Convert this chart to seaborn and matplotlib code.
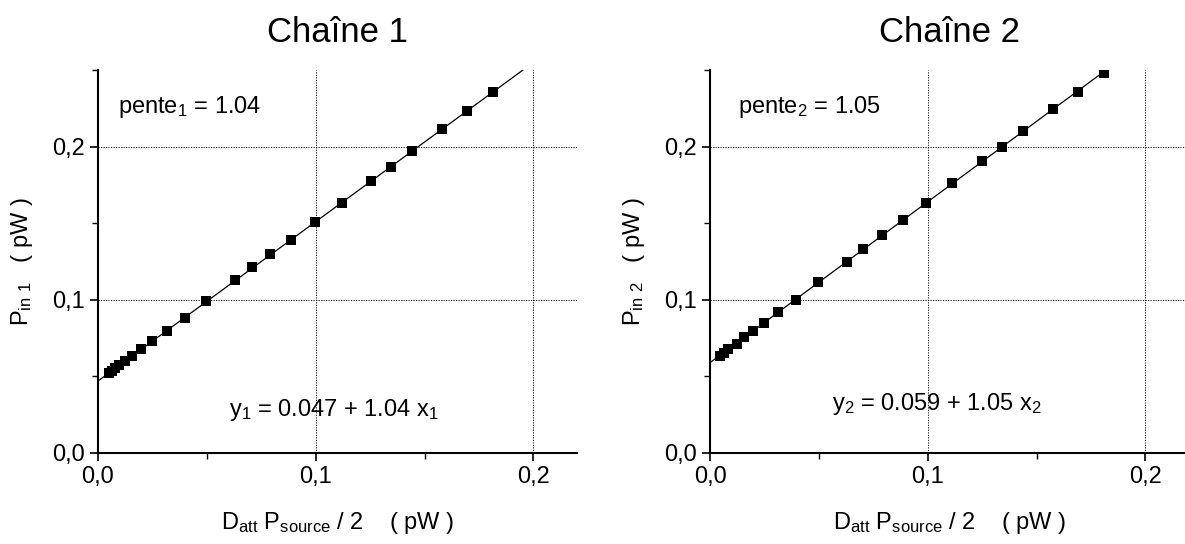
import matplotlib
matplotlib.use("Agg")
import matplotlib.pyplot as plt
import seaborn as sns
import numpy as np
import pandas as pd
from matplotlib.ticker import MultipleLocator, FuncFormatter

# ---------------- data ----------------
titles = ["Chaîne 1", "Chaîne 2"]

x1 = [0.0051, 0.0063, 0.0078, 0.0098, 0.0123, 0.0158, 0.0199, 0.0250, 0.0316,
      0.0399, 0.0498, 0.0628, 0.0706, 0.0792, 0.0887, 0.0998, 0.1120, 0.1255,
      0.1344, 0.1444, 0.1582, 0.1694, 0.1815]
y1 = [0.0521, 0.0538, 0.0554, 0.0575, 0.0603, 0.0636, 0.0680, 0.0732, 0.0799,
      0.0884, 0.0993, 0.1129, 0.1211, 0.1299, 0.1390, 0.1510, 0.1634, 0.1776,
      0.1869, 0.1972, 0.2113, 0.2231, 0.2355]

x2 = [0.0046, 0.0064, 0.0084, 0.0123, 0.0156, 0.0196, 0.0248, 0.0312, 0.0394,
      0.0497, 0.0627, 0.0702, 0.0788, 0.0887, 0.0994, 0.1113, 0.1251, 0.1343,
      0.1436, 0.1575, 0.1691, 0.1811]
y2 = [0.0634, 0.0655, 0.0678, 0.0714, 0.0756, 0.0799, 0.0848, 0.0920, 0.1000,
      0.1113, 0.1248, 0.1329, 0.1420, 0.1518, 0.1634, 0.1760, 0.1904, 0.2000,
      0.2103, 0.2244, 0.2359, 0.2482]

intercepts = [0.047, 0.059]
slopes = [1.04, 1.05]

pente_labels = [r"pente$_{1}$ = 1.04", r"pente$_{2}$ = 1.05"]
eq_labels = [r"y$_{1}$ = 0.047 + 1.04 x$_{1}$", r"y$_{2}$ = 0.059 + 1.05 x$_{2}$"]
ylabels = [r"P$_{\mathregular{in\ 1}}$   ( pW )", r"P$_{\mathregular{in\ 2}}$   ( pW )"]
xlabel = r"D$_{\mathregular{att}}$ P$_{\mathregular{source}}$ / 2    ( pW )"

# ---------------- style ----------------
sns.set_style("ticks")
plt.rcParams['font.family'] = ['Liberation Sans', 'DejaVu Sans']
plt.rcParams['mathtext.default'] = 'regular'
plt.rcParams['text.color'] = 'black'
plt.rcParams['axes.labelcolor'] = 'black'
plt.rcParams['xtick.color'] = 'black'
plt.rcParams['ytick.color'] = 'black'

fig = plt.figure(figsize=(11.85, 5.44), dpi=100)
axes_pos = [[0.0827, 0.1673, 0.4042, 0.7040],
            [0.5992, 0.1673, 0.4042, 0.7040]]

datasets = [(x1, y1), (x2, y2)]
pente_pos = [(0.009, 0.226), (0.013, 0.226)]
eq_pos = [(0.060, 0.028), (0.056, 0.032)]

fmt = FuncFormatter(lambda v, p: f"{v:.1f}".replace(".", ","))

for i in range(2):
    ax = fig.add_axes(axes_pos[i])
    xs, ys = datasets[i]
    df = pd.DataFrame({"x": xs, "y": ys})
    xfit = np.array([0.0, 0.25])
    ax.plot(xfit, intercepts[i] + slopes[i] * xfit, color="black", lw=0.9, zorder=3)
    sns.scatterplot(data=df, x="x", y="y", marker="s", s=48, color="black",
                    edgecolor="black", linewidth=0, ax=ax, zorder=4)
    ax.set_xlim(0, 0.22)
    ax.set_ylim(0, 0.25)
    ax.xaxis.set_major_locator(MultipleLocator(0.1))
    ax.xaxis.set_minor_locator(MultipleLocator(0.05))
    ax.yaxis.set_major_locator(MultipleLocator(0.1))
    ax.yaxis.set_minor_locator(MultipleLocator(0.05))
    ax.xaxis.set_major_formatter(fmt)
    ax.yaxis.set_major_formatter(fmt)
    ax.tick_params(which="major", direction="out", length=6, width=1.2,
                   labelsize=17, color="black", labelcolor="black")
    ax.tick_params(which="minor", direction="out", length=4, width=1.0, color="black")
    for g in [0.1, 0.2]:
        ax.axhline(g, color="black", lw=0.6, ls=(0, (1.5, 1.5)), zorder=1)
        ax.axvline(g, color="black", lw=0.6, ls=(0, (1.5, 1.5)), zorder=1)
    sns.despine(ax=ax)
    for s in ["left", "bottom"]:
        ax.spines[s].set_linewidth(1.5)
        ax.spines[s].set_color("black")
    ax.set_xlabel(xlabel, fontsize=17, labelpad=16, color="black")
    ax.set_ylabel(ylabels[i], fontsize=17, labelpad=12, color="black")
    ax.set_title(titles[i], fontsize=25, pad=20, color="black")
    ax.text(*pente_pos[i], pente_labels[i], fontsize=17, va="center", ha="left", color="black")
    ax.text(*eq_pos[i], eq_labels[i], fontsize=17, va="center", ha="left", color="black")

fig.savefig("out.png", dpi=100)
